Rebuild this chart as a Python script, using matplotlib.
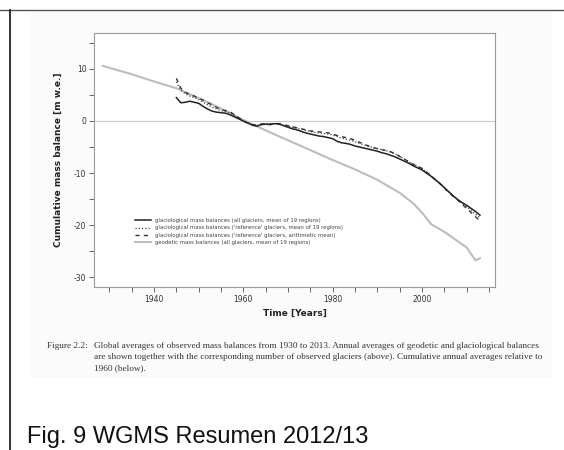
import matplotlib
matplotlib.use("Agg")
import matplotlib.pyplot as plt
from matplotlib.lines import Line2D
import numpy as np

# ---------------- data ----------------
geo_years = [1928.5, 1935, 1940, 1945, 1950, 1955, 1960, 1965, 1970, 1975, 1980,
             1985, 1990, 1995, 1998, 2000, 2002, 2005, 2008, 2010, 2012, 2013]
geo_vals = [10.6, 9.0, 7.6, 6.3, 4.4, 2.4, 0.2, -1.8, -3.7, -5.6, -7.5,
            -9.3, -11.3, -13.8, -15.8, -17.6, -19.8, -21.3, -23.1, -24.3, -26.8, -26.4]

gla_years = list(range(1945, 2014))
gla_all = [4.5, 3.5, 3.6, 3.8, 3.6, 3.4, 2.8, 2.3, 1.9, 1.7,
           1.6, 1.5, 1.2, 0.8, 0.4, 0.0, -0.4, -0.8, -1.0, -0.7,
           -0.6, -0.7, -0.5, -0.6, -0.9, -1.2, -1.5, -1.7, -2.0, -2.3,
           -2.5, -2.7, -2.9, -3.0, -3.2, -3.4, -3.9, -4.2, -4.3, -4.5,
           -4.8, -5.0, -5.2, -5.4, -5.6, -5.8, -6.1, -6.3, -6.6, -6.9,
           -7.3, -7.7, -8.1, -8.6, -9.0, -9.4, -10.0, -10.6, -11.3, -12.0,
           -12.8, -13.6, -14.4, -15.1, -15.7, -16.2, -16.8, -17.4, -18.1]
gla_ref19 = [7.5, 6.0, 5.2, 4.8, 4.5, 4.1, 3.6, 3.1, 2.7, 2.3,
             2.0, 1.8, 1.6, 1.1, 0.5, 0.0, -0.4, -0.7, -0.9, -0.6,
             -0.5, -0.6, -0.5, -0.5, -0.8, -1.0, -1.2, -1.4, -1.6, -1.8,
             -2.0, -2.2, -2.3, -2.4, -2.5, -2.7, -3.0, -3.3, -3.5, -3.7,
             -4.0, -4.3, -4.6, -4.9, -5.1, -5.3, -5.5, -5.7, -6.0, -6.3,
             -6.8, -7.3, -7.8, -8.3, -8.7, -9.2, -9.8, -10.5, -11.2, -11.9,
             -12.8, -13.6, -14.4, -15.1, -15.8, -16.5, -17.2, -17.9, -18.6]
gla_ref_arith = [8.2, 6.3, 5.5, 5.1, 4.8, 4.4, 4.0, 3.5, 3.1, 2.6,
                 2.2, 2.0, 1.8, 1.2, 0.6, 0.0, -0.4, -0.7, -0.8, -0.6,
                 -0.5, -0.6, -0.5, -0.5, -0.7, -0.9, -1.1, -1.3, -1.5, -1.7,
                 -1.9, -2.0, -2.1, -2.2, -2.3, -2.5, -2.8, -3.0, -3.2, -3.4,
                 -3.7, -4.1, -4.4, -4.8, -5.1, -5.3, -5.5, -5.7, -5.9, -6.3,
                 -6.8, -7.3, -7.8, -8.3, -8.7, -9.1, -9.8, -10.5, -11.3, -12.0,
                 -12.9, -13.7, -14.5, -15.2, -16.0, -16.8, -17.6, -18.4, -19.2]

legend_labels = [
    "glaciological mass balances (all glaciers, mean of 19 regions)",
    "glaciological mass balances ('reference' glaciers, mean of 19 regions)",
    "glaciological mass balances ('reference' glaciers, arithmetic mean)",
    "geodetic mass balances (all glaciers, mean of 19 regions)",
]
x_ticks = list(range(1930, 2016, 5))
x_labels = [1940, 1960, 1980, 2000]
y_ticks = list(range(-30, 16, 5))
y_labels = [-30, -20, -10, 0, 10]

caption_head = "Figure 2.2:"
caption_lines = [
    "Global averages of observed mass balances from 1930 to 2013. Annual averages of geodetic and glaciological balances",
    "are shown together with the corresponding number of observed glaciers (above). Cumulative annual averages relative to",
    "1960 (below).",
]
footer = "Fig. 9 WGMS Resumen 2012/13"

# ---------------- figure ----------------
W, H = 564, 450
fig = plt.figure(figsize=(W / 100, H / 100), dpi=100)
fig.patch.set_facecolor("white")

# faint background of the embedded page image (a low-zorder empty axes)
bg = fig.add_axes([31 / W, 1 - 378 / H, (552 - 31) / W, (378 - 10) / H], zorder=0)
bg.set_facecolor("#fbfbfb")
bg.set_xticks([]); bg.set_yticks([])
for s in bg.spines.values():
    s.set_visible(False)

# frame lines
fig.add_artist(Line2D([0, 1], [1 - 9.5 / H, 1 - 9.5 / H], transform=fig.transFigure,
                      color="#555555", lw=1.0))
fig.add_artist(Line2D([9.5 / W, 9.5 / W], [0, 1 - 9.5 / H], transform=fig.transFigure,
                      color="#111111", lw=1.2))

ax = fig.add_axes([94 / W, 1 - 287 / H, (495 - 94) / W, (287 - 33) / H], zorder=5)
ax.set_facecolor("white")

ax.axhline(0, color="#c8c8c8", lw=0.8, zorder=1)
ax.plot(geo_years, geo_vals, color="#bdbdbd", lw=1.5, zorder=2)
ax.plot(gla_years, gla_ref19, color="#444444", lw=0.9, ls=(0, (1, 1.6)), zorder=3)
ax.plot(gla_years, gla_ref_arith, color="#333333", lw=1.0, ls=(0, (3, 3)), zorder=3)
ax.plot(gla_years, gla_all, color="#222222", lw=1.1, zorder=4)

ax.set_xlim(1926.56, 2016.37)
ax.set_ylim(-31.92, 16.92)

ax.set_xticks(x_ticks)
ax.set_xticklabels([str(t) if t in x_labels else "" for t in x_ticks])
ax.set_yticks(y_ticks)
ax.set_yticklabels([str(t) if t in y_labels else "" for t in y_ticks])
ax.tick_params(axis="both", length=3.5, width=0.7, color="#666666",
               labelsize=5.5, labelcolor="#333333", pad=2)
for s in ax.spines.values():
    s.set_color("#999999")
    s.set_linewidth(0.8)

ax.set_xlabel("Time [Years]", fontsize=6.5, fontweight="bold", color="#222222", labelpad=4)
ax.set_ylabel("Cumulative mass balance [m w.e.]", fontsize=6.5, fontweight="bold",
              color="#222222", labelpad=8)

handles = [
    Line2D([], [], color="#222222", lw=1.1),
    Line2D([], [], color="#444444", lw=0.9, ls=(0, (1, 1.6))),
    Line2D([], [], color="#333333", lw=1.0, ls=(0, (3, 3))),
    Line2D([], [], color="#bdbdbd", lw=1.5),
]
leg = ax.legend(handles, legend_labels, loc="upper left",
                bbox_to_anchor=((135 - 94) / (495 - 94), 1 - (218 - 33) / (287 - 33)),
                frameon=False, fontsize=3.9, handlelength=3.0, handletextpad=0.7,
                labelspacing=0.45, borderaxespad=0, borderpad=0)
for t in leg.get_texts():
    t.set_color("#444444")

# caption
cap_font = dict(family="Liberation Serif", fontsize=6.65, color="#333333", va="center",
                zorder=10)
fig.text(88 / W, 1 - 346 / H, caption_head, ha="right", **cap_font)
for i, line in enumerate(caption_lines):
    fig.text(94 / W, 1 - (346 + 11 * i) / H, line, ha="left", **cap_font)

fig.text(27 / W, 1 - 437 / H, footer, family="Liberation Sans", fontsize=17,
         color="#111111", ha="left", va="center", zorder=10)

fig.savefig("out.png", dpi=100, facecolor="white")
